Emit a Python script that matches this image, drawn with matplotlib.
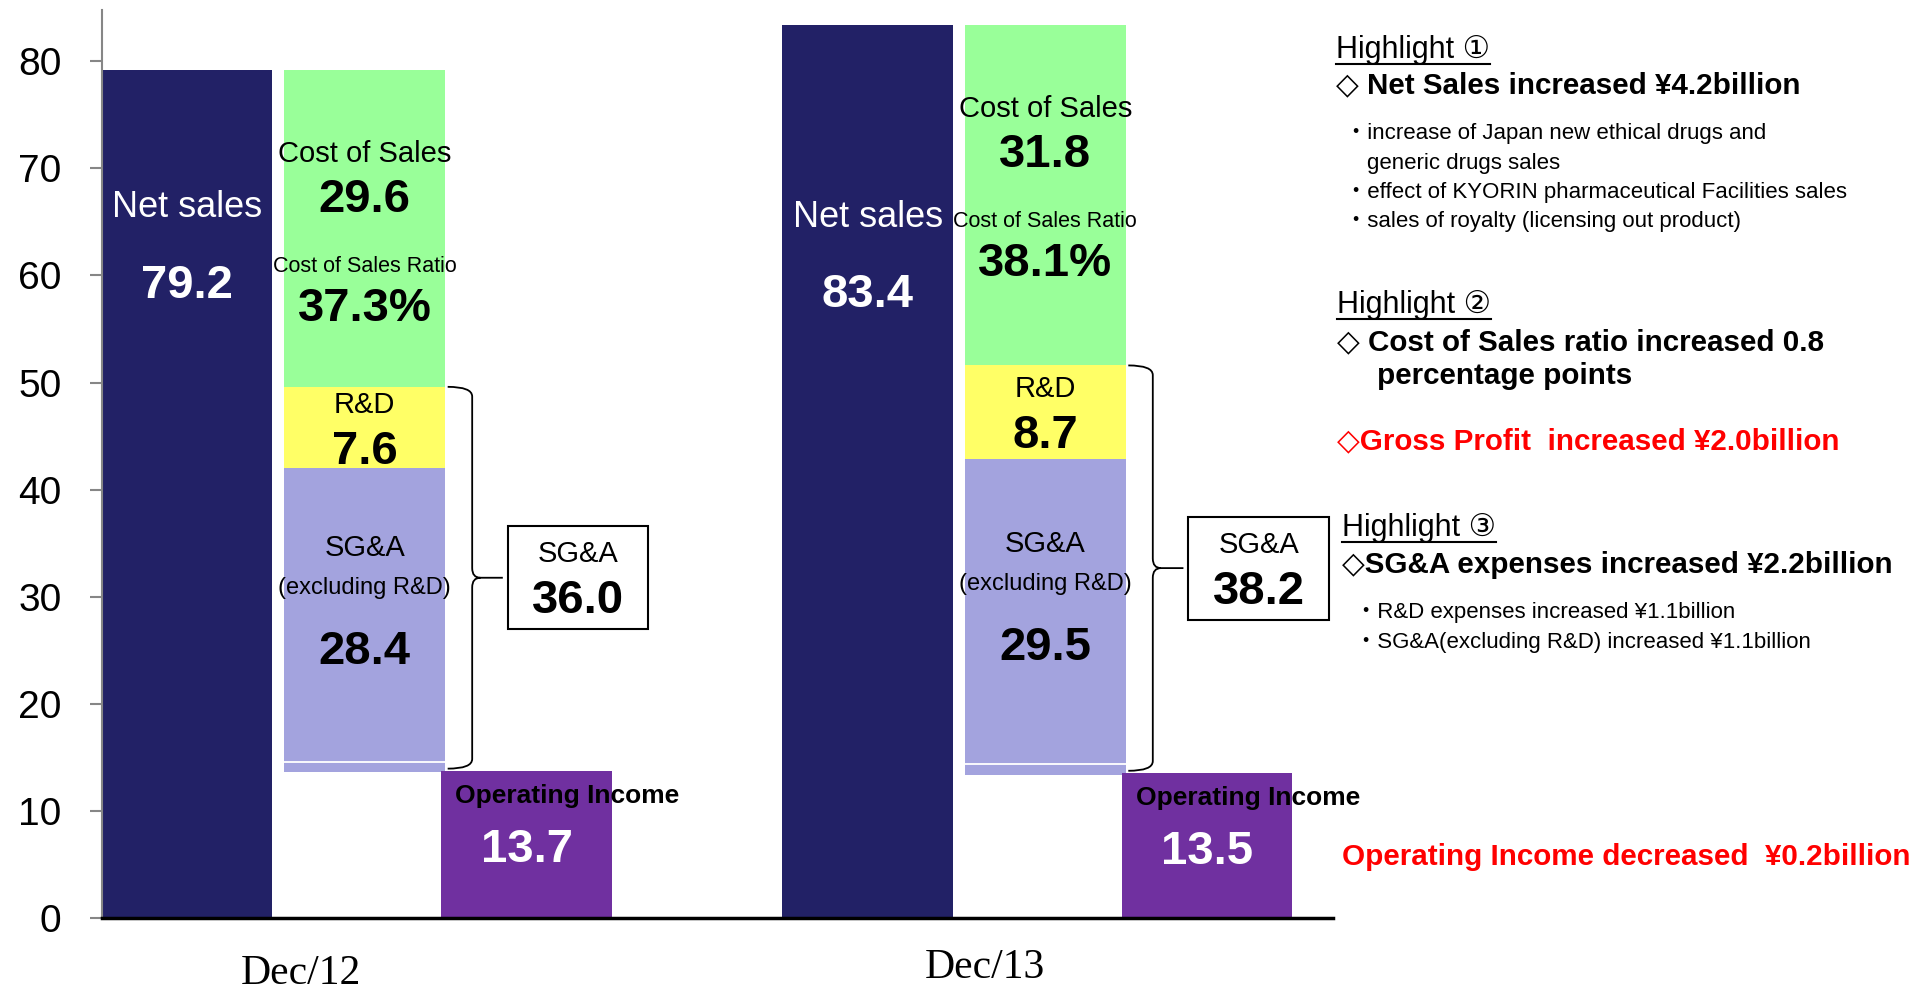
import matplotlib
matplotlib.use("Agg")
import matplotlib.pyplot as plt
import matplotlib.transforms as mtransforms
from matplotlib.lines import Line2D
from matplotlib.patches import Rectangle, PathPatch
from matplotlib.path import Path
import numpy as np

CATEGORIES = ["Dec/12", "Dec/13"]
NET_SALES = [79.2, 83.4]
COST_OF_SALES = [29.6, 31.8]
COST_RATIO = ["37.3%", "38.1%"]
RND = [7.6, 8.7]
SGA_EX_RND = [28.4, 29.5]
SGA_TOTAL = [36.0, 38.2]
OP_INCOME = [13.7, 13.5]
Y_TICKS = [0, 10, 20, 30, 40, 50, 60, 70, 80]

NAVY = "#222166"
GREEN = "#99FF99"
YELLOW = "#FFFF66"
LAVENDER = "#A3A3DE"
PURPLE = "#7030A0"
RED = "#FF0000"

plt.rcParams["font.family"] = ["Liberation Sans", "DejaVu Sans", "Noto Sans CJK JP"]

fig = plt.figure(figsize=(19.23, 9.94), dpi=100)
ax = fig.add_axes([0.0529, 0.0764, 0.6403, 0.9137])

x = np.arange(len(CATEGORIES))
net = np.array(NET_SALES)
cos = np.array(COST_OF_SALES)
rnd = np.array(RND)
sga = np.array(SGA_EX_RND)
opi = np.array(OP_INCOME)

# waterfall: net sales, then costs stacked downward, then operating income
W_NET, W_STACK, W_OP = 0.2505, 0.236, 0.2505
OFF_STACK, OFF_OP = 0.261, 0.499
DY = -0.35  # nudge labels down a touch (va=center includes descent)

green_bottom = net - cos
yellow_bottom = green_bottom - rnd
lav_bottom = yellow_bottom - sga

ax.bar(x, net, width=W_NET, color=NAVY, zorder=2)
ax.bar(x + OFF_STACK, cos, width=W_STACK, bottom=green_bottom, color=GREEN, zorder=2)
ax.bar(x + OFF_STACK, rnd, width=W_STACK, bottom=yellow_bottom, color=YELLOW, zorder=2)
ax.bar(x + OFF_STACK, sga, width=W_STACK, bottom=lav_bottom, color=LAVENDER, zorder=2)
ax.bar(x + OFF_OP, opi, width=W_OP, color=PURPLE, zorder=2)
ax.hlines(lav_bottom + 1.0, x + OFF_STACK - W_STACK / 2, x + OFF_STACK + W_STACK / 2,
          color="white", lw=1.3, zorder=3)

ax.set_xlim(-0.1253, 1.6838)
ax.set_ylim(0, 84.8)
ax.set_yticks(Y_TICKS)
ax.set_xticks([])
ax.tick_params(axis="y", length=9, width=1.5, color="#868686", pad=20, labelsize=28)
for side in ("top", "right"):
    ax.spines[side].set_visible(False)
ax.spines["left"].set_color("#868686")
ax.spines["left"].set_linewidth(1.5)
ax.spines["bottom"].set_color("black")
ax.spines["bottom"].set_linewidth(2.5)
ax.spines["bottom"].set_zorder(4)


def brace(xe, xv, xt, ytop, ybot, r=0.9):
    ymid = (ytop + ybot) / 2
    verts = [(xe, ytop), (xv, ytop), (xv, ytop - r),
             (xv, ymid + r), (xv, ymid), (xv + 0.012, ymid),
             (xt, ymid),
             (xv + 0.012, ymid), (xv, ymid), (xv, ymid - r),
             (xv, ybot + r), (xv, ybot), (xe, ybot)]
    codes = [Path.MOVETO, Path.CURVE3, Path.CURVE3,
             Path.LINETO, Path.CURVE3, Path.CURVE3,
             Path.LINETO,
             Path.MOVETO, Path.CURVE3, Path.CURVE3,
             Path.LINETO, Path.CURVE3, Path.CURVE3]
    ax.add_patch(PathPatch(Path(verts, codes), fill=False, lw=1.3, ec="black", zorder=3))
    return ymid


def label(xp, yp, s, size, bold=False, color="black", ha="center"):
    ax.text(xp, yp + DY, s, fontsize=size, fontweight="bold" if bold else "normal",
            color=color, ha=ha, va="center", zorder=5)


net_label_y = [66.7, 65.8]
net_value_y = [59.4, 58.5]

for i in range(len(CATEGORIES)):
    xs = x[i] + OFF_STACK
    # net sales
    label(x[i], net_label_y[i], "Net sales", 26, color="white")
    label(x[i], net_value_y[i], f"{NET_SALES[i]:.1f}", 34, bold=True, color="white")
    # cost of sales
    top = net[i]
    label(xs, top - 7.5, "Cost of Sales", 21)
    label(xs, top - 11.8, f"{COST_OF_SALES[i]:.1f}", 34, bold=True)
    label(xs, top - 18.0, "Cost of Sales Ratio", 15.5)
    label(xs, top - 22.0, COST_RATIO[i], 34, bold=True)
    # R&D
    rmid = (green_bottom[i] + yellow_bottom[i]) / 2
    label(xs, rmid + 2.5, "R&D", 21)
    label(xs, rmid - 1.9, f"{RND[i]:.1f}", 34, bold=True)
    # SG&A excluding R&D
    mid = (yellow_bottom[i] + lav_bottom[i]) / 2
    label(xs, mid + 7.1, "SG&A", 21)
    label(xs, mid + 3.4, "(excluding R&D)", 17)
    label(xs, mid - 2.6, f"{SGA_EX_RND[i]:.1f}", 34, bold=True)
    # operating income
    label(x[i] + OFF_OP - W_OP / 2 + 0.02, opi[i] - 1.95, "Operating Income", 19, bold=True, ha="left")
    label(x[i] + OFF_OP, opi[i] - 6.95, f"{OP_INCOME[i]:.1f}", 34, bold=True, color="white")
    # brace + SG&A total box
    ymid = brace(x[i] + 0.383, x[i] + 0.419, x[i] + 0.464, green_bottom[i], lav_bottom[i] + 0.35)
    ax.add_patch(Rectangle((x[i] + 0.471, ymid - 4.8), 0.207, 9.6, fc="white", ec="black",
                           lw=1.5, zorder=3))
    label(x[i] + 0.5745, ymid + 2.55, "SG&A", 21)
    label(x[i] + 0.5745, ymid - 1.85, f"{SGA_TOTAL[i]:.1f}", 34, bold=True)

# category labels
trans = mtransforms.blended_transform_factory(ax.transData, ax.transAxes)
for i, (off, ya) in enumerate([(0.167, -0.0610), (0.172, -0.0545)]):
    ax.text(x[i] + off, ya, CATEGORIES[i], transform=trans, fontsize=30,
            family=["Liberation Serif"], ha="center", va="center")

# highlight panel on the right
FY = -0.0025
headers = []


def note(xf, yf, s, size, bold=False, color="black"):
    return fig.text(xf, yf + FY, s, fontsize=size, fontweight="bold" if bold else "normal",
                    color=color, va="center")


headers.append(note(0.6945, 0.9519, "Highlight \u2460", 22))
note(0.6945, 0.9162, "\u25c7 Net Sales increased \u00a54.2billion", 21.3, bold=True)
note(0.6995, 0.8681, "\u30fbincrease of Japan new ethical drugs and", 16)
note(0.7111, 0.8385, "generic drugs sales", 16)
note(0.6995, 0.8089, "\u30fbeffect of KYORIN pharmaceutical Facilities sales", 16)
note(0.6995, 0.7793, "\u30fbsales of royalty (licensing out product)", 16)

headers.append(note(0.6951, 0.6954, "Highlight \u2461", 22))
note(0.6951, 0.6585, "\u25c7 Cost of Sales ratio increased 0.8", 21.3, bold=True)
note(0.7162, 0.6239, "percentage points", 21.3, bold=True)
note(0.6951, 0.5586, "\u25c7Gross Profit  increased \u00a52.0billion", 21.3, bold=True, color=RED)

headers.append(note(0.6977, 0.4710, "Highlight \u2462", 22))
note(0.6977, 0.4340, "\u25c7SG&A expenses increased \u00a52.2billion", 21.3, bold=True)
note(0.7045, 0.3860, "\u30fbR&D expenses increased \u00a51.1billion", 16)
note(0.7045, 0.3564, "\u30fbSG&A(excluding R&D) increased \u00a51.1billion", 16)
note(0.6977, 0.1406, "Operating Income decreased  \u00a50.2billion", 21.3, bold=True, color=RED)

# underline the highlight headers
fig.canvas.draw()
renderer = fig.canvas.get_renderer()
inv = fig.transFigure.inverted()
for t in headers:
    bb = t.get_window_extent(renderer)
    (x0, y0), (x1, _) = inv.transform([(bb.x0, bb.y0 + 1), (bb.x1, bb.y1)])
    fig.add_artist(Line2D([x0, x1], [y0, y0], transform=fig.transFigure, color="black", lw=1.5))

fig.savefig("out.png", dpi=100)
